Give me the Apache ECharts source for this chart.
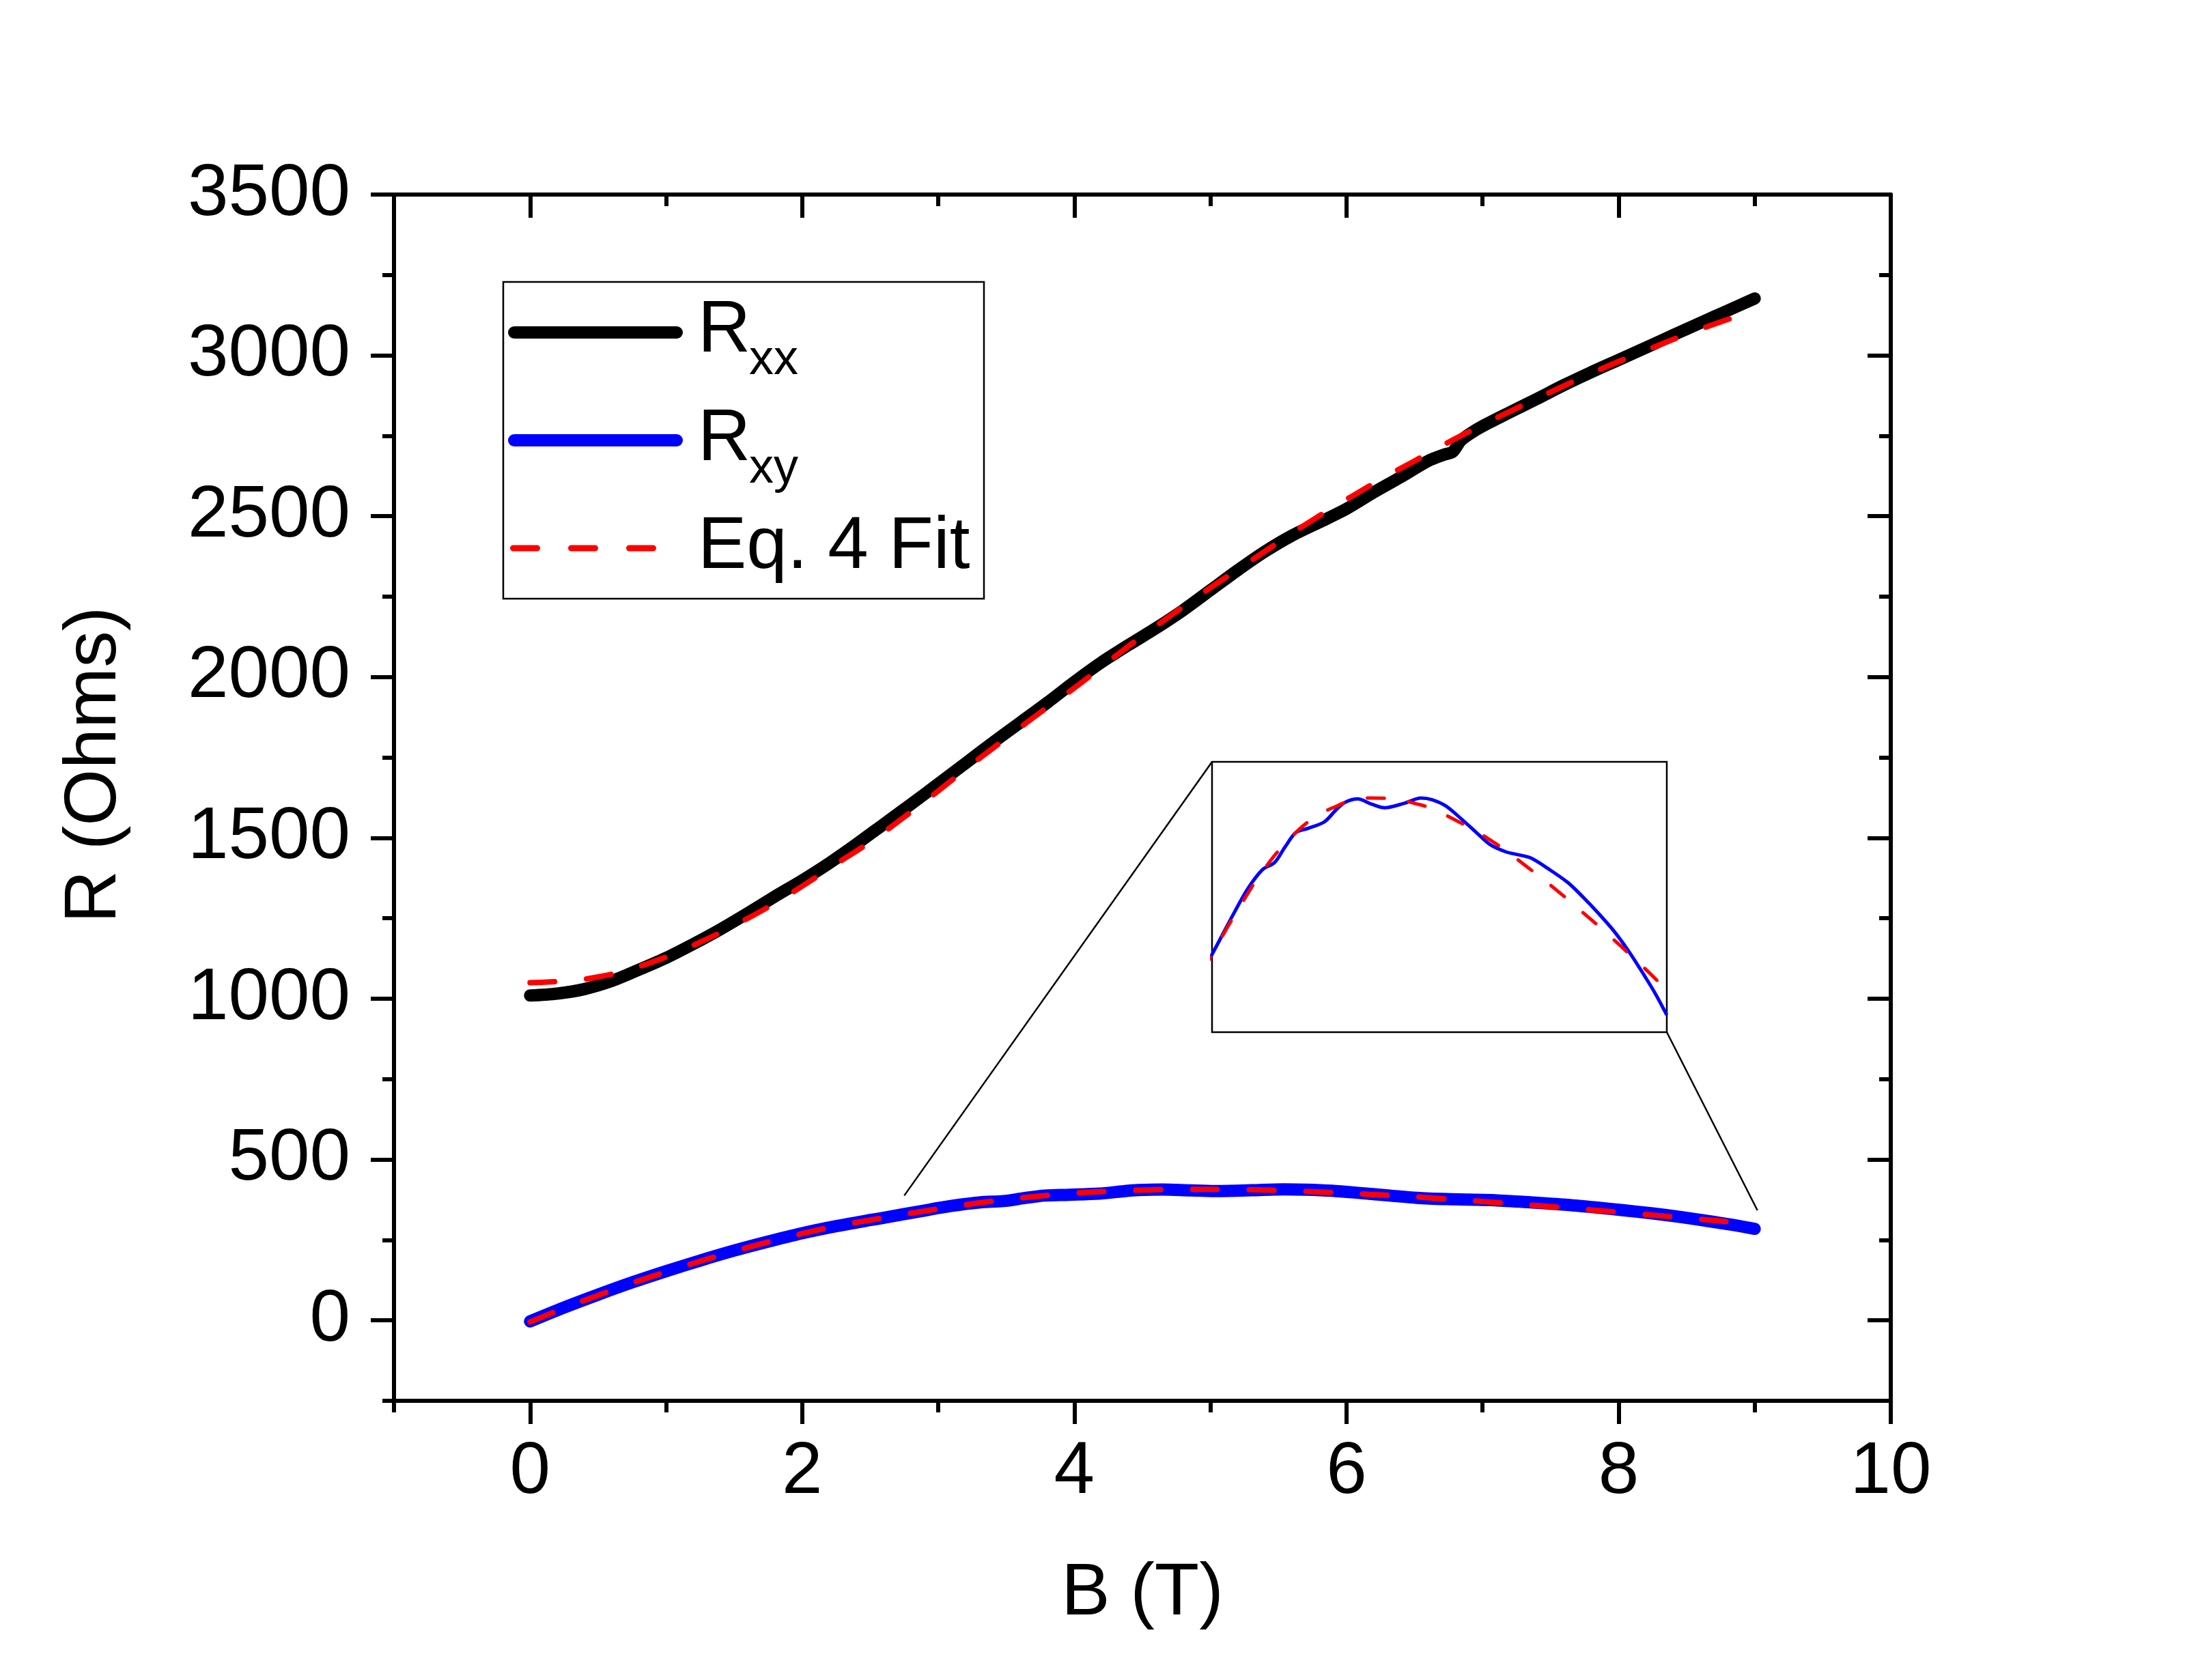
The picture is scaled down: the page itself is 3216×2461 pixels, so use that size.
<!DOCTYPE html>
<html>
<head>
<meta charset="utf-8">
<title>R vs B</title>
<script src="https://cdn.jsdelivr.net/npm/echarts@6/dist/echarts.min.js"></script>
<style>
  html, body { margin: 0; padding: 0; background: #fff; }
  #chart { width: 3216px; height: 2461px; }
</style>
</head>
<body>
<div id="chart"></div>
<script>
// B (T) 和 Rxx 实测数据
const rxxB = [0, 0.2, 0.4, 0.6, 0.8, 1.0, 1.2, 1.4, 1.6, 1.8, 2.0, 2.2, 2.4, 2.6, 2.8, 3.0, 3.2, 3.4, 3.6, 3.8,
  4.0, 4.2, 4.4, 4.6, 4.8, 5.0, 5.2, 5.4, 5.6, 5.8, 6.0, 6.2, 6.4, 6.6, 6.72, 6.78, 6.84, 6.92, 7.0,
  7.2, 7.4, 7.6, 7.8, 8.0, 8.2, 8.4, 8.6, 8.8, 9.0];
const rxxVal = [1010, 1016, 1030, 1055, 1090, 1127, 1170, 1216, 1266, 1318, 1368, 1422, 1481, 1543, 1605, 1668, 1732, 1796, 1858, 1920,
  1985, 2046, 2100, 2152, 2208, 2270, 2332, 2390, 2440, 2481, 2523, 2574, 2622, 2672, 2692, 2700, 2735, 2760, 2780,
  2823, 2865, 2908, 2948, 2986, 3024, 3063, 3101, 3139, 3177];

// Rxx 拟合 (Eq. 4)
const fitXxB = [0, 0.25, 0.5, 0.75, 1.0, 1.25, 1.5, 1.75, 2.0, 2.25, 2.5, 2.75, 3.0, 3.25, 3.5, 3.75, 4.0, 4.25, 4.5,
  4.75, 5.0, 5.25, 5.5, 5.75, 6.0, 6.25, 6.5, 6.75, 7.0, 7.25, 7.5, 7.75, 8.0, 8.25, 8.5, 8.75, 9.0];
const fitXxVal = [1050, 1055, 1068, 1094, 1130, 1176, 1228, 1285, 1350, 1419, 1488, 1565, 1646, 1730, 1810, 1890, 1966, 2048, 2128,
  2204, 2278, 2348, 2419, 2488, 2552, 2614, 2672, 2730, 2784, 2836, 2886, 2935, 2981, 3024, 3066, 3104, 3140];

// Rxy 实测数据
const rxyB = [0, 0.25, 0.5, 0.75, 1.0, 1.25, 1.5, 1.75, 2.0, 2.25, 2.5, 2.6, 2.89, 3.1, 3.31, 3.48, 3.63, 3.78, 3.96, 4.18,
  4.35, 4.47, 4.65, 4.85, 5.03, 5.3, 5.54, 5.7, 5.89, 6.1, 6.32, 6.52, 6.74, 6.9, 7.09, 7.35, 7.61, 7.82, 8.03, 8.25,
  8.46, 8.7, 8.85, 9.0];
const rxyVal = [-3, 40, 80, 118, 153, 186, 217, 245, 271, 293, 312, 319, 341, 356, 367, 371, 380, 388, 390.5, 394,
  401, 405, 407, 404, 402, 404.5, 407.5, 406.5, 403, 396, 388, 381, 377, 375.5, 373.5, 367, 359.6, 351.5, 342.6, 332.5,
  321, 306, 296, 284.7];

// Rxy 拟合 (Eq. 4)
const fitXyB = [0, 0.25, 0.5, 0.75, 1.0, 1.25, 1.5, 1.75, 2.0, 2.25, 2.5, 2.6, 2.84, 3.05, 3.31, 3.66, 4.04, 4.3, 4.56,
  4.85, 5.16, 5.45, 5.69, 6.18, 6.62, 7.02, 7.43, 7.8, 8.18, 8.55, 8.85, 9.0];
const fitXyVal = [-5, 38, 78, 116, 151, 184, 215, 244, 270, 293, 312, 319, 336, 350, 366, 383, 396.7, 402, 406,
  407.5, 407, 404.5, 401.4, 391.7, 381, 369, 356, 343.4, 330, 316.3, 304.8, 298];

// 坐标轴刻度
const xMajor = [0, 2, 4, 6, 8, 10];
const xMinor = [-1, 1, 3, 5, 7, 9];
const yMajor = [0, 500, 1000, 1500, 2000, 2500, 3000, 3500];
const yMinor = [-250, 250, 750, 1250, 1750, 2250, 2750, 3250];

// 局部放大图范围，以及引出线在主图上的起点
const insetRangeB = [2.6, 9.0];
const insetRangeR = [275, 428];
const connectorStarts = [[2.75, 388], [9.02, 342]];

const zip = (xs, ys) => xs.map((x, i) => [x, ys[i]]);

const FONT = '"Liberation Sans", Arial, sans-serif';
const main = { left: 577, top: 285, width: 2192, height: 1767, xMin: -1, xMax: 10, yMin: -250, yMax: 3500 };
const inset = { left: 1775, top: 1116, width: 666, height: 396 };

// 把放大框的角点换算成主图数据坐标
function toMain(px, py) {
  const b = main.xMin + (px - main.left) / main.width * (main.xMax - main.xMin);
  const r = main.yMax - (py - main.top) / main.height * (main.yMax - main.yMin);
  return [b, r];
}
const insetTopLeft = toMain(inset.left, inset.top);
const insetBottomRight = toMain(inset.left + inset.width, inset.top + inset.height);

const line6 = { color: '#000', width: 6 };
const plain = v => String(v);

function tickAxis(position, values, length, inside, extra) {
  const isX = position === 'bottom' || position === 'top';
  return Object.assign({
    type: 'value', gridIndex: 0, position: position,
    min: isX ? main.xMin : main.yMin,
    max: isX ? main.xMax : main.yMax,
    axisLine: { show: false, onZero: false },
    axisTick: { show: true, inside: inside, length: length, lineStyle: line6, customValues: values },
    axisLabel: { show: false },
    splitLine: { show: false },
    minorTick: { show: false }
  }, extra || {});
}

const chart = echarts.init(document.getElementById('chart'), null, { width: 3216, height: 2461 });

const option = {
  animation: false,
  backgroundColor: '#fff',
  grid: [
    { left: main.left, top: main.top, width: main.width, height: main.height, show: false },
    { left: inset.left, top: inset.top, width: inset.width, height: inset.height,
      show: true, borderColor: '#000', borderWidth: 2.5, backgroundColor: '#fff' }
  ],
  xAxis: [
    tickAxis('bottom', xMajor, 34, false, {
      axisLine: { show: true, onZero: false, lineStyle: line6 },
      axisLabel: { show: true, customValues: xMajor, formatter: plain, margin: 52,
        fontSize: 107, fontFamily: FONT, color: '#000' },
      name: 'B (T)', nameLocation: 'middle', nameGap: 230,
      nameTextStyle: { fontSize: 107, fontFamily: FONT, color: '#000' }
    }),
    tickAxis('bottom', xMinor, 17, false),
    tickAxis('top', xMajor, 34, true, { axisLine: { show: true, onZero: false, lineStyle: line6 } }),
    tickAxis('top', xMinor, 17, true),
    { type: 'value', gridIndex: 1, min: insetRangeB[0], max: insetRangeB[1], show: false }
  ],
  yAxis: [
    tickAxis('left', yMajor, 34, false, {
      axisLine: { show: true, onZero: false, lineStyle: line6 },
      axisLabel: { show: true, customValues: yMajor, formatter: plain, margin: 64,
        fontSize: 107, fontFamily: FONT, color: '#000' },
      name: 'R (Ohms)', nameLocation: 'middle', nameGap: 384,
      nameTextStyle: { fontSize: 107, fontFamily: FONT, color: '#000', padding: [0, 0, 0, 96] }
    }),
    tickAxis('left', yMinor, 17, false),
    tickAxis('right', yMajor, 34, true, { axisLine: { show: true, onZero: false, lineStyle: line6 } }),
    tickAxis('right', yMinor, 17, true),
    { type: 'value', gridIndex: 1, min: insetRangeR[0], max: insetRangeR[1], show: false }
  ],
  series: [
    {
      name: 'Rxx', type: 'line', xAxisIndex: 0, yAxisIndex: 0, data: zip(rxxB, rxxVal),
      symbol: 'none', smooth: 0.3,
      lineStyle: { color: '#000', width: 18, cap: 'round', join: 'round' }
    },
    {
      name: 'Rxy', type: 'line', xAxisIndex: 0, yAxisIndex: 0, data: zip(rxyB, rxyVal),
      symbol: 'none', smooth: 0.3,
      lineStyle: { color: '#0000ff', width: 18, cap: 'round', join: 'round' }
    },
    {
      name: 'Eq. 4 Fit', type: 'line', xAxisIndex: 0, yAxisIndex: 0, data: zip(fitXxB, fitXxVal),
      symbol: 'none', smooth: true,
      lineStyle: { color: '#ff0000', width: 8, type: [36, 47], cap: 'round' }
    },
    {
      name: 'Eq. 4 Fit', type: 'line', xAxisIndex: 0, yAxisIndex: 0, data: zip(fitXyB, fitXyVal),
      symbol: 'none', smooth: true,
      lineStyle: { color: '#ff0000', width: 8, type: [36, 47], cap: 'round' }
    },
    // 放大图
    {
      name: 'Rxy inset', type: 'line', xAxisIndex: 4, yAxisIndex: 4, data: zip(rxyB, rxyVal),
      symbol: 'none', smooth: 0.3, clip: true,
      lineStyle: { color: '#0000ff', width: 5 }
    },
    {
      name: 'Fit inset', type: 'line', xAxisIndex: 4, yAxisIndex: 4, data: zip(fitXyB, fitXyVal),
      symbol: 'none', smooth: true, clip: true,
      lineStyle: { color: '#ff0000', width: 5, type: [25, 36], cap: 'round' }
    },
    // 引出线
    {
      type: 'line', xAxisIndex: 0, yAxisIndex: 0, silent: true, symbol: 'none', clip: false,
      data: [connectorStarts[0], insetTopLeft],
      lineStyle: { color: '#000', width: 2.5 }
    },
    {
      type: 'line', xAxisIndex: 0, yAxisIndex: 0, silent: true, symbol: 'none', clip: false,
      data: [connectorStarts[1], insetBottomRight],
      lineStyle: { color: '#000', width: 2.5 }
    }
  ],
  // 图例（带下标，手工绘制）
  graphic: [
    { type: 'rect', shape: { x: 737, y: 413, width: 704, height: 464 },
      style: { fill: '#fff', stroke: '#000', lineWidth: 2.5 } },
    { type: 'line', shape: { x1: 753, y1: 487, x2: 991, y2: 487 },
      style: { stroke: '#000', lineWidth: 18, lineCap: 'round' } },
    { type: 'line', shape: { x1: 753, y1: 645, x2: 991, y2: 645 },
      style: { stroke: '#0000ff', lineWidth: 18, lineCap: 'round' } },
    { type: 'line', shape: { x1: 751.5, y1: 803, x2: 956.5, y2: 803 },
      style: { stroke: '#ff0000', lineWidth: 9, lineDash: [35, 50], lineCap: 'round' } },
    { type: 'text', x: 1022, y: 485.5,
      style: { text: 'R', font: '107px ' + FONT, fill: '#000', verticalAlign: 'middle' } },
    { type: 'text', x: 1097, y: 528,
      style: { text: 'xx', font: '72px ' + FONT, fill: '#000', verticalAlign: 'middle' } },
    { type: 'text', x: 1022, y: 644.5,
      style: { text: 'R', font: '107px ' + FONT, fill: '#000', verticalAlign: 'middle' } },
    { type: 'text', x: 1097, y: 687,
      style: { text: 'xy', font: '72px ' + FONT, fill: '#000', verticalAlign: 'middle' } },
    { type: 'text', x: 1022, y: 802.5,
      style: { text: 'Eq. 4 Fit', font: '107px ' + FONT, fill: '#000', verticalAlign: 'middle' } }
  ]
};

chart.setOption(option);
</script>
</body>
</html>
